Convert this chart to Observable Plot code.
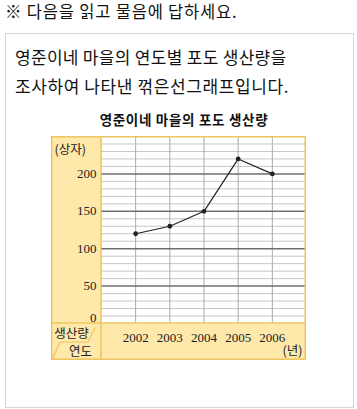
<!DOCTYPE html>
<html><head><meta charset="utf-8">
<script src="https://cdn.jsdelivr.net/npm/d3@7"></script>
<script src="https://cdn.jsdelivr.net/npm/@observablehq/plot@0.6"></script>
<style>
body{margin:0;background:#fff;width:357px;height:409px;position:relative;overflow:hidden;font-family:"Noto Sans CJK KR",sans-serif;color:#111}
.t{position:absolute;white-space:nowrap;line-height:20px}
</style></head><body>
<div class="t" style="left:5px;top:2px;line-height:18px;font-size:16.5px;letter-spacing:0.8px">※ 다음을 읽고 물음에 답하세요.</div>
<div style="position:absolute;left:5px;top:33px;width:347px;height:373px;border:1px solid #d6d6d6"></div>
<div class="t" style="left:15px;top:47px;font-size:17px;letter-spacing:0.3px">영준이네 마을의 연도별 포도 생산량을</div>
<div class="t" style="left:15px;top:76px;font-size:17px;letter-spacing:0.6px">조사하여 나타낸 꺾은선그래프입니다.</div>
<div class="t" style="left:0;width:368px;text-align:center;top:109px;font-size:13.5px;font-weight:700;letter-spacing:0.7px">영준이네 마을의 포도 생산량</div>
<div id="chart" style="position:absolute;left:51px;top:136px"></div>
<script>
const years = [2002, 2003, 2004, 2005, 2006];
const production = [120, 130, 150, 220, 200];
const majorTicks = [50, 100, 150, 200];
const minorTicks = [10, 20, 30, 40, 60, 70, 80, 90, 110, 120, 130, 140, 160, 170, 180, 190, 210, 220, 230, 240];
const yUnit = "(상자)";
const xUnit = "(년)";
const cornerTop = "생산량";
const cornerBottom = "연도";

const data = years.map((y, i) => ({year: y, value: production[i]}));
const W = 255, H = 224, ML = 50, MB = 37;
const yellow = "#fee8aa", border = "#eec45e";
const numFont = "Liberation Serif";
const kr = "Noto Sans CJK KR";

const chart = Plot.plot({
  width: W, height: H,
  marginLeft: ML, marginRight: 0, marginTop: 0, marginBottom: MB,
  style: {background: yellow, overflow: "visible"},
  x: {domain: [2001, 2007], axis: null},
  y: {domain: [0, 250], axis: null},
  marks: [
    Plot.frame({fill: "white", stroke: null}),
    Plot.ruleY(minorTicks, {stroke: "#c6c6c6", strokeWidth: 1}),
    Plot.ruleX(years, {stroke: "#aaaaaa", strokeWidth: 1}),
    Plot.ruleY(majorTicks, {stroke: "#6e6e6e", strokeWidth: 1.5}),
    Plot.line(data, {x: "year", y: "value", stroke: "#222", strokeWidth: 1.2}),
    Plot.dot(data, {x: "year", y: "value", r: 2.4, fill: "#222", stroke: null}),
    Plot.text(majorTicks, {y: d => d, text: d => String(d), frameAnchor: "left", textAnchor: "end", lineAnchor: "middle", dx: -5, fontSize: 13, fontFamily: numFont, fill: "#222"}),
    Plot.text([0], {y: d => d, text: d => String(d), frameAnchor: "left", textAnchor: "end", lineAnchor: "middle", dx: -5, dy: -6, fontSize: 13, fontFamily: numFont, fill: "#222"}),
    Plot.text(years, {x: d => d, text: d => String(d), frameAnchor: "bottom", lineAnchor: "middle", dy: 14, fontSize: 13, fontFamily: numFont, fill: "#222"}),
    Plot.text([yUnit], {text: d => d, frameAnchor: "top-left", textAnchor: "start", lineAnchor: "middle", dx: -47, dy: 13, fontSize: 12.5, fontFamily: kr, fill: "#222"}),
    Plot.text([xUnit], {text: d => d, frameAnchor: "bottom-right", textAnchor: "middle", lineAnchor: "middle", dx: -14, dy: 27.5, fontSize: 12.5, fontFamily: kr, fill: "#222"}),
    Plot.text([cornerTop], {text: d => d, frameAnchor: "bottom-left", textAnchor: "middle", lineAnchor: "middle", dx: -30, dy: 10.5, fontSize: 12.5, fontFamily: kr, fill: "#222"}),
    Plot.text([cornerBottom], {text: d => d, frameAnchor: "bottom-left", textAnchor: "middle", lineAnchor: "middle", dx: -21, dy: 28, fontSize: 12.5, fontFamily: kr, fill: "#222"})
  ]
});

// decorative yellow frame lines
const svg = d3.select(chart);
const g = svg.append("g").attr("fill", "none").attr("stroke", border).attr("stroke-width", 1.5);
g.append("rect").attr("x", 0.75).attr("y", 0.75).attr("width", W - 1.5).attr("height", H - 1.5);
g.append("line").attr("x1", ML).attr("x2", ML).attr("y1", 0).attr("y2", H);
g.append("line").attr("x1", 0).attr("x2", W).attr("y1", H - MB).attr("y2", H - MB);
g.append("path").attr("stroke-width", 1.2).attr("d", `M1,${H} L9,${H - 18} L37,${H - 18} L44,${H - 32}`);

document.getElementById("chart").appendChild(chart);
</script>
</body></html>
